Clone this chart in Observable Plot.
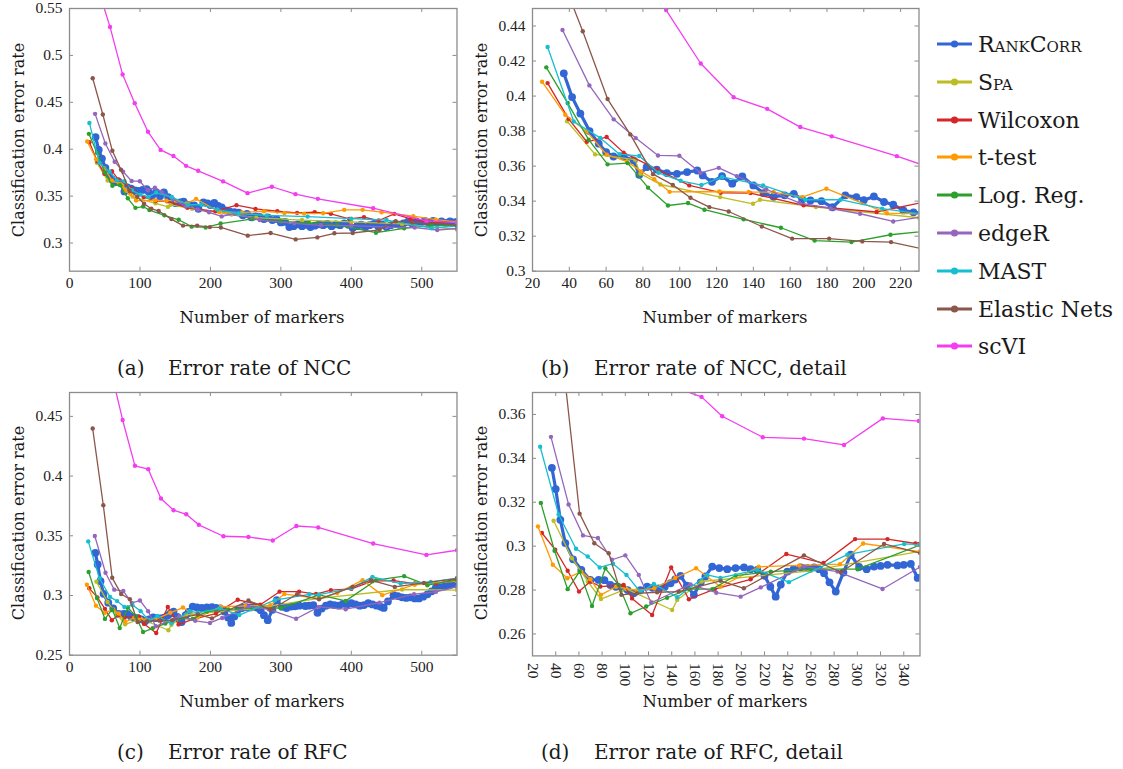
<!DOCTYPE html>
<html>
<head>
<meta charset="utf-8">
<script src="https://cdn.jsdelivr.net/npm/d3@7"></script>
<script src="https://cdn.jsdelivr.net/npm/@observablehq/plot@0.6"></script>
<style>
  html, body { margin: 0; padding: 0; background: #fff; }
  body { width: 1123px; height: 769px; position: relative; overflow: hidden; font-family: "DejaVu Serif", serif; color: #1a1a1a; }
  .abs { position: absolute; white-space: nowrap; }
  .xlab { font-size: 16.5px; transform: translate(-50%, -50%); }
  .ylab { font-size: 16px; transform: translate(-50%, -50%) rotate(-90deg); }
  .cap { font-size: 20px; transform: translateY(-50%); }
  .leg { font-size: 22px; transform: translateY(-50%); }
</style>
</head>
<body>
<script>
// Methods, legend order and colours
const methods = ["RankCorr", "Spa", "Wilcoxon", "t-test", "Log. Reg.", "edgeR", "MAST", "Elastic Nets", "scVI"];
const colors = ["#3266d4", "#bcbd22", "#d62728", "#ff9a00", "#2ca02c", "#9467bd", "#17becf", "#8c564b", "#f43cf0"];
const smallCaps = ["RankCorr", "Spa"];

// ---- Nearest centroid classifier (NCC): [number of markers, error rate]
const nccRankCorr = [[37,0.413],[41.5,0.3994],[46,0.390],[51,0.380],[56,0.3728],[60,0.368],[64,0.3655],[69.5,0.3655],[75,0.3632],[78,0.355],[82,0.3594],[87.5,0.358],[93,0.356],[98.5,0.3556],[104,0.3566],[109.5,0.3575],[112.5,0.3547],[117.5,0.351],[123,0.3543],[128.5,0.350],[134,0.3541],[140,0.349],[145.5,0.3446],[151,0.3425],[157,0.3433],[162,0.3442],[166.5,0.341],[171,0.3404],[177,0.340],[183,0.3365],[190,0.3433],[196,0.3423],[200,0.3405],[205.5,0.3427],[211,0.3395],[216,0.338],[221.5,0.3347],[227,0.3336],[234,0.333],[240,0.3325],[246,0.3295],[252,0.331],[258,0.3275],[264,0.3285],[270,0.328],[276,0.3255],[282,0.327],[288,0.3245],[294,0.3255],[300,0.322],[306,0.3225],[312,0.317],[318,0.318],[324,0.320],[330,0.318],[336,0.3195],[342,0.317],[348,0.3185],[354,0.320],[360,0.319],[366,0.3205],[372,0.318],[378,0.320],[384,0.319],[390,0.321],[396,0.3195],[402,0.316],[408,0.318],[414,0.3195],[420,0.317],[426,0.319],[432,0.3205],[438,0.318],[444,0.3195],[450,0.317],[456,0.319],[462,0.3205],[468,0.3195],[474,0.321],[480,0.3225],[486,0.321],[492,0.323],[498,0.3215],[504,0.3235],[510,0.322],[516,0.3235],[522,0.3215],[528,0.323],[534,0.3215],[540,0.323],[546,0.322],[550,0.3225]];
const nccSpa = [[38.8,0.3856],[54,0.3667],[75.7,0.3637],[78.6,0.3557],[89.5,0.3495],[122,0.3423],[139.8,0.3385],[143.6,0.3408],[174,0.3366],[230,0.3305],[265,0.327],[330,0.3245],[400,0.3225],[472,0.3204],[550,0.3145]];
const nccWilcoxon = [[28.2,0.4074],[39.6,0.387],[49.5,0.3739],[60.3,0.3766],[69.5,0.3677],[87.7,0.3581],[105.2,0.349],[122.2,0.3448],[138.4,0.3446],[167.3,0.3376],[207,0.3338],[237,0.3404],[264,0.3364],[295,0.3339],[323,0.3322],[348,0.333],[371,0.3311],[397,0.3257],[418,0.3275],[439,0.324],[461,0.3311],[484,0.3257],[508,0.322],[550,0.322]];
const nccTTest = [[25.2,0.4082],[37.8,0.3893],[49.3,0.3798],[60.4,0.3665],[71.3,0.3627],[79,0.357],[86.2,0.3525],[94.5,0.3453],[121.5,0.3455],[137.5,0.3452],[151,0.3452],[166.5,0.3423],[179.7,0.3471],[212.6,0.3331],[245,0.3325],[276,0.3339],[305,0.3321],[333,0.3314],[360,0.3317],[390,0.3354],[416,0.3354],[443,0.3329],[488,0.3286],[520,0.325],[550,0.3225]];
const nccLogReg = [[27.5,0.4164],[39.1,0.396],[50.5,0.3751],[60.8,0.361],[71.7,0.3617],[82.8,0.3477],[93.6,0.3375],[104.5,0.3389],[113.4,0.3351],[134.7,0.3296],[155,0.3248],[173.3,0.3175],[193.3,0.3166],[214.5,0.3208],[260,0.3257],[300,0.323],[340,0.3215],[380,0.3195],[435,0.311],[475,0.3157],[513,0.3185],[550,0.3185]];
const nccEdgeR = [[36.3,0.4377],[50.9,0.4061],[64.1,0.3867],[76.1,0.376],[88.2,0.3661],[99.8,0.3659],[111.2,0.3562],[121.2,0.359],[131,0.3543],[147,0.3468],[165,0.339],[182,0.3358],[198,0.3328],[216,0.3284],[235,0.3315],[270,0.3245],[319,0.321],[357,0.3189],[400,0.3185],[450,0.317],[490,0.3165],[522,0.3139],[550,0.3155]];
const nccMast = [[28.2,0.428],[42.4,0.3855],[56.8,0.3761],[67.3,0.3668],[78,0.3658],[88.5,0.3562],[100.5,0.3516],[111.8,0.3492],[123,0.3538],[145.3,0.349],[168.3,0.3408],[187.3,0.3408],[210,0.3357],[240,0.3315],[280,0.3295],[338,0.3282],[400,0.326],[450,0.3245],[514,0.3158],[550,0.318]];
const nccElasticNets = [[32.9,0.4757],[47.3,0.437],[60.8,0.3983],[73.1,0.3781],[85.5,0.3554],[96.2,0.3493],[105.8,0.3419],[116.1,0.3366],[126.6,0.3341],[144.6,0.3255],[161.1,0.3186],[181.2,0.3186],[199.2,0.317],[214.8,0.3166],[253,0.3079],[285.5,0.3107],[321,0.3039],[351.8,0.306],[376,0.3104],[402,0.3107],[440,0.314],[463,0.3232],[487,0.322],[510,0.3215],[550,0.319]];
const nccScVI = [[39,0.575],[57.5,0.5304],[75.4,0.4796],[92.6,0.4491],[111.4,0.4186],[129.3,0.3993],[147.5,0.3927],[165.5,0.3823],[182.6,0.377],[218,0.3657],[252.7,0.3532],[287.2,0.36],[320.8,0.3521],[352.5,0.3471],[431,0.3371],[506.6,0.3236],[550,0.3218]];

// ---- Random forest classifier (RFC): [number of markers, error rate]
const rfcRankCorr = [[36.7,0.3357],[40,0.326],[44,0.312],[48.3,0.3014],[55,0.294],[62.1,0.2892],[69.8,0.2846],[77,0.2846],[82,0.2845],[87.1,0.2823],[92,0.2815],[97.2,0.2811],[102,0.280],[107.2,0.2785],[113,0.280],[118.8,0.2816],[123.5,0.281],[128.9,0.2808],[134,0.2815],[139,0.2831],[143,0.2848],[147.6,0.2865],[153,0.282],[159.1,0.2778],[165,0.2835],[169,0.2862],[174.9,0.2907],[181,0.290],[187.9,0.2895],[195,0.290],[202.3,0.2903],[208,0.2895],[213.8,0.2892],[220,0.2865],[225,0.2815],[229.6,0.277],[234,0.2825],[239.7,0.2884],[245,0.2895],[251.2,0.2903],[257,0.290],[262.7,0.2903],[267,0.2895],[271.3,0.2877],[276,0.2835],[281.4,0.2793],[288,0.288],[294.3,0.2961],[301.5,0.2905],[308,0.2895],[314.4,0.2907],[320,0.291],[326,0.2915],[334.6,0.2912],[340,0.2915],[346.1,0.2919],[352,0.2855],[358,0.289],[364,0.2915],[370,0.2925],[376,0.292],[382,0.2915],[388,0.293],[394,0.2925],[400,0.2935],[406,0.2925],[412,0.2915],[418,0.292],[424,0.2935],[430,0.2925],[436,0.2915],[442,0.2905],[446,0.2896],[452,0.295],[460,0.3002],[466,0.2995],[472,0.2985],[478,0.298],[484,0.2985],[490,0.2975],[496,0.2975],[502,0.299],[508,0.301],[514,0.3035],[520,0.3065],[526,0.307],[532,0.3075],[538,0.3085],[544,0.3095],[550,0.310]];
const rfcSpa = [[38.2,0.3116],[54,0.2945],[67.6,0.2839],[79,0.2759],[101,0.2805],[140.4,0.2709],[144.7,0.2755],[165.8,0.2839],[260,0.2888],[354,0.2976],[472,0.305],[550,0.3045]];
const rfcWilcoxon = [[28.1,0.306],[39.6,0.2984],[50.3,0.2888],[60.1,0.2793],[69.8,0.2839],[78.5,0.2816],[98.6,0.2823],[105.8,0.2762],[123.1,0.2686],[139.5,0.2903],[154.8,0.2758],[177,0.2804],[208,0.2849],[238.8,0.2964],[270.8,0.2923],[298.1,0.3032],[326,0.3032],[350,0.3012],[371,0.3045],[400,0.3055],[430,0.312],[460,0.3125],[490,0.310],[520,0.310],[550,0.314]];
const rfcTTest = [[24.7,0.309],[37.5,0.2915],[50,0.2854],[62,0.2884],[70,0.2849],[79,0.2778],[92,0.2815],[110,0.2798],[125,0.2808],[143,0.2855],[161,0.2899],[182,0.2815],[215,0.2906],[250,0.2912],[285,0.2918],[305,0.3012],[354,0.2975],[380,0.302],[416,0.3128],[444,0.3003],[490,0.309],[550,0.312]];
const rfcLogReg = [[27.2,0.3197],[39,0.2979],[50.3,0.2804],[60.6,0.2884],[71.3,0.2727],[82.8,0.2899],[94.3,0.2823],[104.4,0.2694],[118,0.2725],[136,0.2765],[155,0.2805],[175,0.2804],[195.2,0.2866],[225.4,0.2884],[260,0.2895],[300.2,0.2895],[354,0.3005],[392,0.2955],[435,0.3128],[475,0.3162],[508,0.3086],[550,0.313]];
const rfcEdgeR = [[35.9,0.3498],[51.1,0.319],[63.5,0.3049],[76.4,0.3037],[88.5,0.2938],[100,0.2958],[111.6,0.2869],[122.3,0.2742],[156.2,0.2826],[178.4,0.2788],[199.4,0.277],[216.7,0.2812],[254,0.2907],[282.8,0.2884],[321.7,0.2805],[354,0.2905],[392,0.2885],[440,0.294],[489,0.3011],[520,0.303],[550,0.3072]];
const rfcMast = [[26.6,0.3453],[42.5,0.3144],[57.5,0.2988],[67.6,0.2953],[77.9,0.2903],[89.4,0.292],[101,0.2869],[113.1,0.279],[124.6,0.2828],[144.8,0.2767],[170.6,0.2869],[182,0.2855],[213.6,0.2892],[241,0.2836],[291.4,0.2961],[340.4,0.301],[354,0.3007],[400,0.306],[430,0.3156],[470,0.310],[512.8,0.3114],[550,0.3146]];
const rfcElasticNets = [[32.9,0.4398],[48,0.3756],[60.6,0.3148],[73.3,0.3013],[85.7,0.2968],[96.6,0.2778],[110,0.2785],[127.4,0.279],[146,0.2793],[182.1,0.2842],[202.2,0.2808],[254,0.2958],[285.7,0.2881],[323,0.301],[354.2,0.2968],[401.7,0.3072],[427.7,0.3128],[461.7,0.3072],[503,0.3105],[550,0.3142]];
const rfcScVI = [[39,0.54],[57.5,0.4917],[75.4,0.447],[92.9,0.4086],[111.8,0.4058],[129.8,0.3812],[147.7,0.3714],[165.7,0.368],[183.5,0.3592],[218.5,0.3496],[254,0.349],[288.5,0.3461],[322,0.3582],[353,0.357],[431,0.3435],[506.6,0.334],[550,0.3379]];

const nccSeries = [nccRankCorr, nccSpa, nccWilcoxon, nccTTest, nccLogReg, nccEdgeR, nccMast, nccElasticNets, nccScVI];
const rfcSeries = [rfcRankCorr, rfcSpa, rfcWilcoxon, rfcTTest, rfcLogReg, rfcEdgeR, rfcMast, rfcElasticNets, rfcScVI];

// Axis ticks
const xTicksFull = [0, 100, 200, 300, 400, 500];
const xTicksNccDetail = [20, 40, 60, 80, 100, 120, 140, 160, 180, 200, 220];
const xTicksRfcDetail = [20, 40, 60, 80, 100, 120, 140, 160, 180, 200, 220, 240, 260, 280, 300, 320, 340];
const yTicksNcc = [0.3, 0.35, 0.4, 0.45, 0.5, 0.55];
const yTicksNccDetail = [0.3, 0.32, 0.34, 0.36, 0.38, 0.4, 0.42, 0.44];
const yTicksRfc = [0.25, 0.3, 0.35, 0.4, 0.45];
const yTicksRfcDetail = [0.26, 0.28, 0.3, 0.32, 0.34, 0.36];

const frameColor = "#8c8c8c";
const fmt = d => String(+d.toFixed(2));

function seriesMarks(series) {
  return series.flatMap((pts, i) => {
    const rows = pts.map(([x, y]) => ({method: methods[i], x, y}));
    const main = i === 0;
    return [
      Plot.line(rows, {x: "x", y: "y", stroke: colors[i], strokeWidth: main ? 3.2 : 1.3, clip: true}),
      Plot.dot(rows, {x: "x", y: "y", fill: colors[i], r: main ? 3.9 : 2.2, clip: true})
    ];
  });
}

function panel({left, top, right, bottom, xDomain, yDomain, xTicks, yTicks, rotate, series}) {
  const ml = 72, mr = 16, mt = 12, mb = 44;
  const iw = right - left, ih = bottom - top;
  const svg = Plot.plot({
    width: iw + ml + mr, height: ih + mt + mb,
    marginLeft: ml, marginRight: mr, marginTop: mt, marginBottom: mb,
    x: {domain: xDomain},
    y: {domain: yDomain},
    style: {fontFamily: "'Liberation Serif', serif", fontSize: "15.5px", color: "#222", background: "transparent", overflow: "visible"},
    marks: [
      ...seriesMarks(series),
      Plot.frame({stroke: frameColor, strokeWidth: 1.3}),
      Plot.tickX(xTicks, {x: d => d, stroke: frameColor, insetTop: ih - 4}),
      Plot.tickX(xTicks, {x: d => d, stroke: frameColor, insetBottom: ih - 4}),
      Plot.tickY(yTicks, {y: d => d, stroke: frameColor, insetRight: iw - 4}),
      Plot.tickY(yTicks, {y: d => d, stroke: frameColor, insetLeft: iw - 4}),
      rotate
        ? Plot.axisX({ticks: xTicks, tickSize: 0, tickPadding: 7, tickRotate: 90, label: null, tickFormat: d => d})
        : Plot.axisX({ticks: xTicks, tickSize: 0, tickPadding: 6, label: null, tickFormat: d => d}),
      Plot.axisY({ticks: yTicks, tickSize: 0, tickPadding: 7, label: null, tickFormat: fmt})
    ]
  });
  svg.style.position = "absolute";
  svg.style.left = (left - ml) + "px";
  svg.style.top = (top - mt) + "px";
  document.body.appendChild(svg);
}

panel({left: 68.5, top: 8, right: 456, bottom: 270.7, xDomain: [0, 550], yDomain: [0.27, 0.55], xTicks: xTicksFull, yTicks: yTicksNcc, series: nccSeries});
panel({left: 532, top: 8, right: 918.5, bottom: 270.7, xDomain: [20, 230], yDomain: [0.3, 0.45], xTicks: xTicksNccDetail, yTicks: yTicksNccDetail, series: nccSeries});
panel({left: 68.5, top: 392.3, right: 456, bottom: 655, xDomain: [0, 550], yDomain: [0.25, 0.47], xTicks: xTicksFull, yTicks: yTicksRfc, series: rfcSeries});
panel({left: 531.5, top: 392.3, right: 919, bottom: 655.7, xDomain: [20, 354], yDomain: [0.25, 0.37], xTicks: xTicksRfcDetail, yTicks: yTicksRfcDetail, rotate: true, series: rfcSeries});

// Axis titles and captions
function text(cls, str, x, y) {
  const d = document.createElement("div");
  d.className = "abs " + cls;
  d.textContent = str;
  d.style.left = x + "px";
  d.style.top = y + "px";
  document.body.appendChild(d);
  return d;
}
[[262, 317], [725, 317], [262, 701], [725, 701]].forEach(([x, y]) => text("xlab", "Number of markers", x, y));
[[18, 140], [481, 140], [18, 523], [481, 523]].forEach(([x, y]) => text("ylab", "Classification error rate", x, y));

const captions = [
  ["(a)", "Error rate of NCC", 117, 168, 368],
  ["(b)", "Error rate of NCC, detail", 541, 594, 368],
  ["(c)", "Error rate of RFC", 117, 168, 752],
  ["(d)", "Error rate of RFC, detail", 541, 594, 752]
];
captions.forEach(([tag, str, x0, x1, y]) => { text("cap", tag, x0, y); text("cap", str, x1, y); });

// Legend
const legendTop = 44, legendStep = 37.8;
methods.forEach((m, i) => {
  const y = legendTop + i * legendStep;
  const s = d3.create("svg").attr("width", 40).attr("height", 12)
    .style("position", "absolute").style("left", "935px").style("top", (y - 6) + "px");
  s.append("line").attr("x1", 2).attr("x2", 37).attr("y1", 6).attr("y2", 6)
    .attr("stroke", colors[i]).attr("stroke-width", 3);
  s.append("circle").attr("cx", 19.5).attr("cy", 6).attr("r", 3.6).attr("fill", colors[i]);
  document.body.appendChild(s.node());
  const t = text("leg", m, 978, y);
  if (smallCaps.includes(m)) t.style.fontVariant = "small-caps";
});
</script>
</body>
</html>
